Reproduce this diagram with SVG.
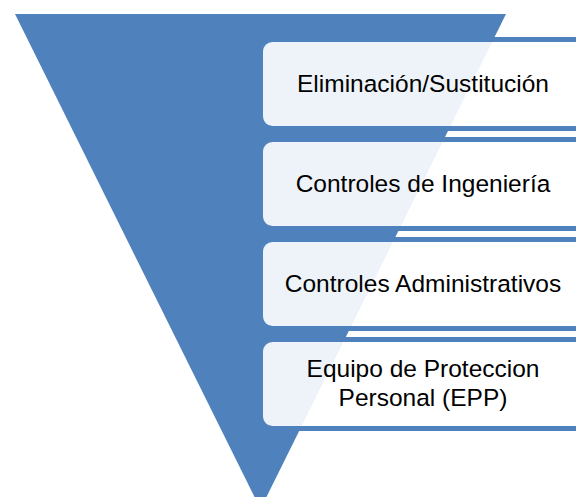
<svg xmlns="http://www.w3.org/2000/svg" width="576" height="497" viewBox="0 0 576 497">
<style>
.box{fill:#ffffff;fill-opacity:0.9;stroke:#4F81BD;stroke-width:5}
.lbl{font-family:"Liberation Sans",Arial,sans-serif;font-size:24.5px;fill:#000000;text-anchor:middle}
</style>
<rect width="576" height="497" fill="#ffffff"/>
<g id="triangle">
<polygon points="15,14 506,14 260.5,509" fill="#4F81BD"/>
</g>
<g id="node1">
<rect class="box" x="260.5" y="39.5" width="340" height="89" rx="12"/>
<text class="lbl" x="423" y="92">Eliminación/Sustitución</text>
</g>
<g id="node2">
<rect class="box" x="260.5" y="139.5" width="340" height="89" rx="12"/>
<text class="lbl" x="423" y="192">Controles de Ingeniería</text>
</g>
<g id="node3">
<rect class="box" x="260.5" y="239.5" width="340" height="89" rx="12"/>
<text class="lbl" x="423" y="292">Controles Administrativos</text>
</g>
<g id="node4">
<rect class="box" x="260.5" y="339.5" width="340" height="89" rx="12"/>
<text class="lbl" x="423" y="377">Equipo de Proteccion</text>
<text class="lbl" x="423" y="406">Personal (EPP)</text>
</g>
<g id="connectors"/>
</svg>
